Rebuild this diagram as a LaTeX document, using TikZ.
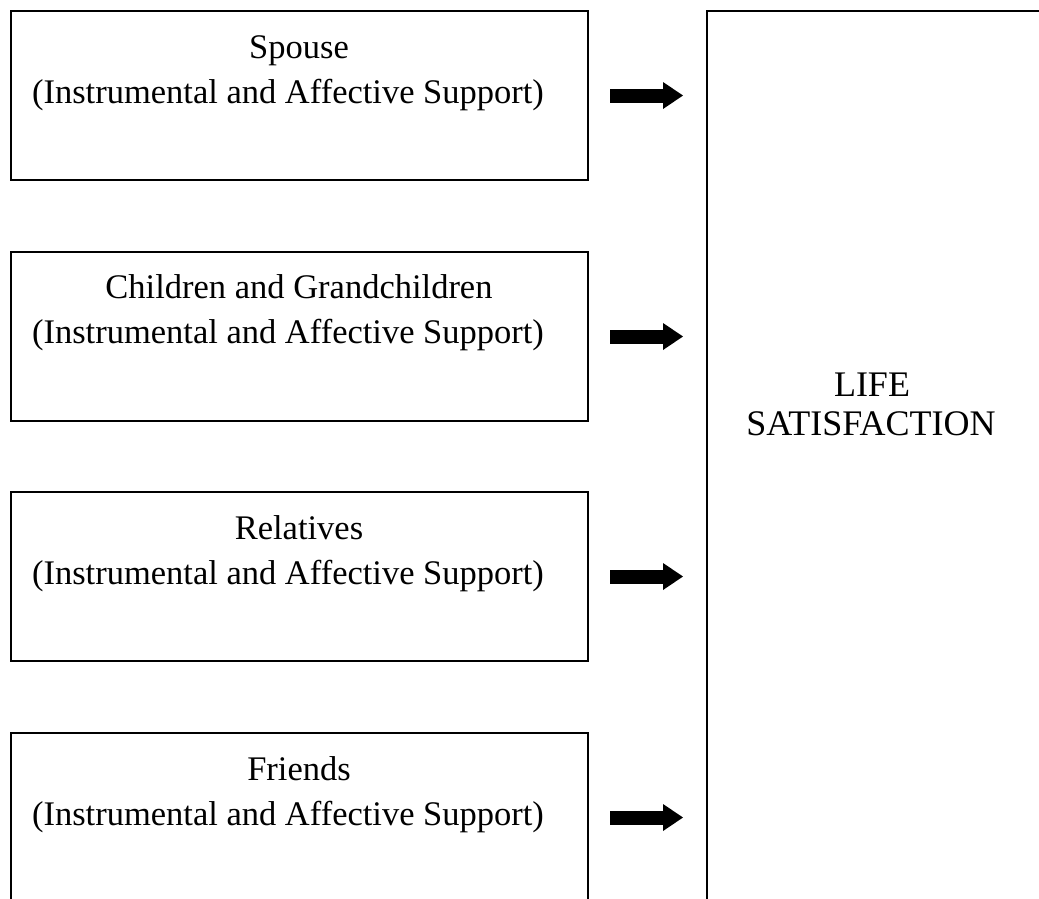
\documentclass[tikz,border=0pt]{standalone}
\usepackage{fontspec}
\setmainfont{Liberation Serif}
\usetikzlibrary{arrows.meta}
\tikzset{
  box/.style={draw=black, line width=2pt, minimum width=577pt, minimum height=169pt, anchor=north west, inner sep=0pt},
  bigbox/.style={draw=black, line width=2pt, minimum width=336pt, minimum height=900pt, anchor=north west, inner sep=0pt},
  lbl/.style={font=\fontsize{34.5}{40}\selectfont, anchor=base, inner sep=0pt},
  biglbl/.style={font=\fontsize{36}{42}\selectfont, anchor=base, inner sep=0pt},
  blockarrow/.style={line width=14pt, -{Triangle[length=20pt, width=27pt, line width=0pt]}}
}
\begin{document}
\begin{tikzpicture}[x=1pt, y=-1pt]
\clip (0,0) rectangle (1039,898);
\fill[white] (0,0) rectangle (1039,898);
\node[box] (b1) at (10,10) {};
\node[box] (b2) at (10,251) {};
\node[box] (b3) at (10,491) {};
\node[box] (b4) at (10,732) {};
\node[bigbox] (life) at (706,10) {};
\node[lbl] (t1a) at (299,58) {Spouse};
\node[lbl] (t1b) at (288,103) {(Instrumental and Affective Support)};
\node[lbl] (t2a) at (299,298) {Children and Grandchildren};
\node[lbl] (t2b) at (288,343) {(Instrumental and Affective Support)};
\node[lbl] (t3a) at (299,539) {Relatives};
\node[lbl] (t3b) at (288,584) {(Instrumental and Affective Support)};
\node[lbl] (t4a) at (299,780) {Friends};
\node[lbl] (t4b) at (288,825) {(Instrumental and Affective Support)};
\node[biglbl] (l1) at (872,396) {LIFE};
\node[biglbl] (l2) at (871,435) {SATISFACTION};
\foreach \b in {b1,b2,b3,b4}{
  \draw[blockarrow] ([xshift=21pt]\b.east) -- ([xshift=-23pt]life.west |- \b.east);
}
\end{tikzpicture}
\end{document}
